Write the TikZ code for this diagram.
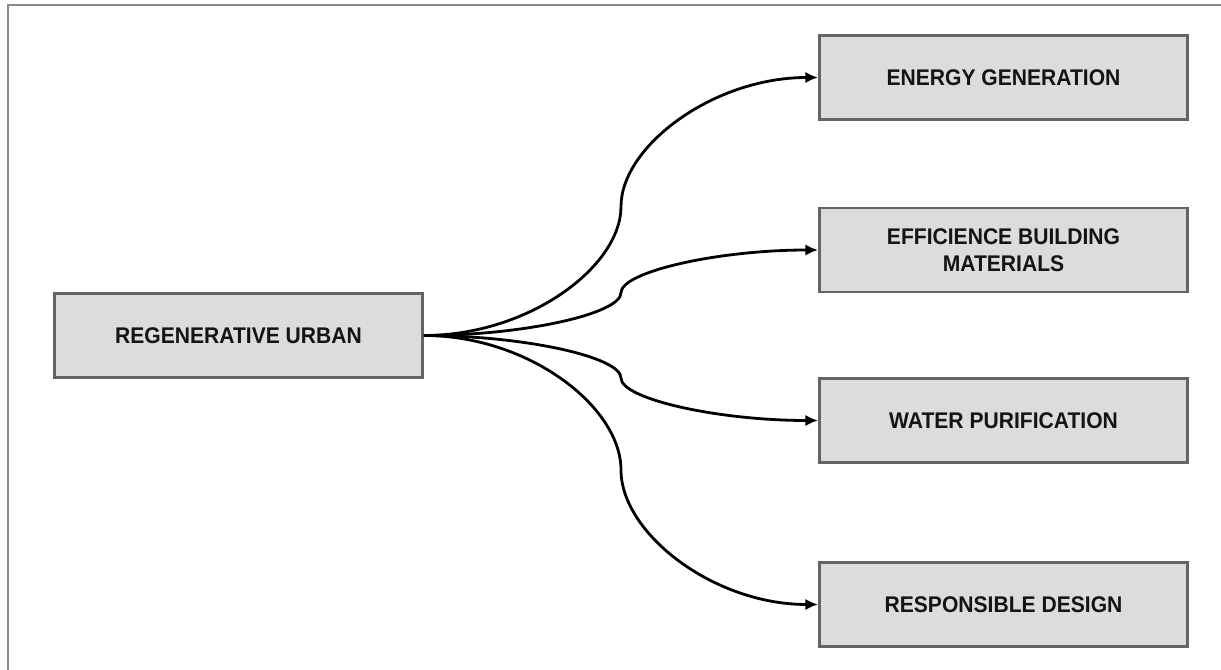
\documentclass[tikz,border=0pt]{standalone}
\usepackage{fontspec}
\setmainfont{Liberation Sans}[FakeStretch=0.93]
\usetikzlibrary{arrows.meta,calc}

\definecolor{boxfill}{HTML}{DCDCDC}
\definecolor{boxline}{HTML}{646464}
\definecolor{frameline}{HTML}{8A8A8A}
\definecolor{labeltext}{HTML}{141414}

\tikzset{
  topic/.style={draw=boxline, line width=2.2pt, fill=boxfill,
    minimum width=276pt, minimum height=63pt, inner sep=0pt,
    align=center, text=labeltext,
    font=\fontsize{17}{20.5}\selectfont\bfseries},
  conn/.style={draw=black, line width=2.1pt,
    -{Latex[length=9.5pt,width=8.5pt]}},
}

\begin{document}
\begin{tikzpicture}[x=0.75pt,y=-0.75pt]
  \useasboundingbox (0,0) rectangle (1221,670);

  % open frame: top and left edges only
  \draw[frameline, line width=1.5pt] (8,670) -- (8,5) -- (1221,5);

  % source and target boxes
  \node[topic] (root)   at (238.5,335.5) {REGENERATIVE URBAN};
  \node[topic] (energy) at (1003.5,77.5)  {ENERGY GENERATION};
  \node[topic] (mater)  at (1003.5,250)   {EFFICIENCE BUILDING\\MATERIALS};
  \node[topic] (water)  at (1003.5,420.5) {WATER PURIFICATION};
  \node[topic] (design) at (1003.5,604.5) {RESPONSIBLE DESIGN};

  % turning points halfway between source and each target
  \coordinate (mE) at ($(root.east)!0.5!(energy.west)$);
  \coordinate (mM) at ($(root.east)!0.5!(mater.west)$);
  \coordinate (mW) at ($(root.east)!0.5!(water.west)$);
  \coordinate (mD) at ($(root.east)!0.5!(design.west)$);

  % S-shaped connectors: horizontal out, vertical at the middle, horizontal in
  \draw[conn] (root.east) .. controls +(105,0) and +(0,60) .. (mE)
                          .. controls +(0,-60) and +(-105,0) .. (energy.west);
  \draw[conn] (root.east) .. controls +(100,0) and +(0,21) .. (mM)
                          .. controls +(0,-21) and +(-100,0) .. (mater.west);
  \draw[conn] (root.east) .. controls +(100,0) and +(0,-21) .. (mW)
                          .. controls +(0,21) and +(-100,0) .. (water.west);
  \draw[conn] (root.east) .. controls +(105,0) and +(0,-63) .. (mD)
                          .. controls +(0,63) and +(-105,0) .. (design.west);
\end{tikzpicture}
\end{document}
